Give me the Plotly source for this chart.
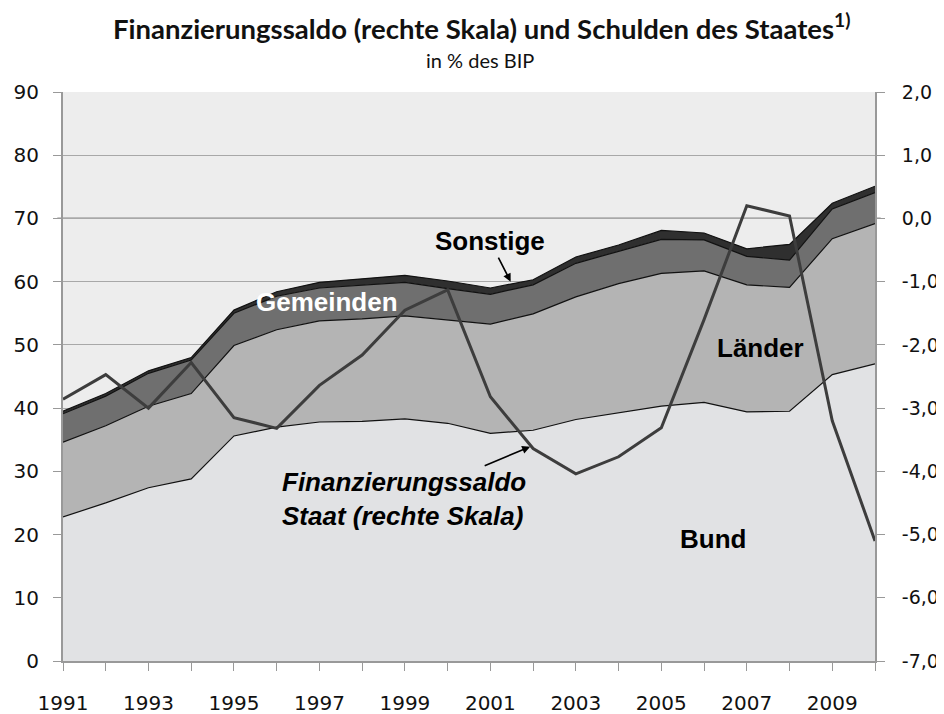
import plotly.graph_objects as go

years = list(range(1991, 2011))
bund = [22.8, 25.0, 27.4, 28.8, 35.6, 37.0, 37.8, 37.9, 38.3, 37.6, 36.0, 36.5, 38.2, 39.3, 40.3, 40.9, 39.4, 39.5, 45.3, 47.0]
laender = [11.8, 12.2, 12.9, 13.5, 14.3, 15.4, 16.0, 16.2, 16.3, 16.3, 17.3, 18.4, 19.4, 20.4, 21.0, 20.8, 20.1, 19.6, 21.5, 22.2]
gemeinden = [4.5, 4.7, 5.2, 5.3, 5.1, 5.3, 5.2, 5.3, 5.3, 5.0, 4.7, 4.6, 5.3, 5.1, 5.4, 4.9, 4.5, 4.3, 4.7, 4.9]
sonstige = [0.4, 0.4, 0.4, 0.4, 0.5, 0.7, 0.9, 1.1, 1.1, 1.2, 1.0, 0.8, 1.0, 1.0, 1.4, 1.1, 1.2, 2.5, 0.9, 1.0]
saldo = [-2.86, -2.47, -3.0, -2.28, -3.15, -3.32, -2.64, -2.16, -1.45, -1.13, -2.82, -3.64, -4.04, -3.77, -3.31, -1.6, 0.2, 0.04, -3.2, -5.1]

left_ticks = list(range(0, 100, 10))
right_ticks = list(range(-7, 3))
right_ticktext = [f"{v},0" for v in right_ticks]
x_labels = [y for y in years if y % 2 == 1]

fig = go.Figure()
areas = [("Bund", bund, "#e1e2e4"), ("Länder", laender, "#b4b4b4"),
         ("Gemeinden", gemeinden, "#6f6f6f"), ("Sonstige", sonstige, "#2f2f2f")]
for name, vals, col in areas:
    fig.add_trace(go.Scatter(x=years, y=vals, name=name, stackgroup="debt",
                             mode="lines", line=dict(color="#111111", width=1.2),
                             fillcolor=col))

fig.add_trace(go.Scatter(x=years, y=saldo, name="Finanzierungssaldo", yaxis="y2",
                         mode="lines", line=dict(color="#3d3d3d", width=3)))

tickfont = dict(family="DejaVu Sans", size=20, color="#111111")
fig.update_layout(
    width=936, height=706,
    margin=dict(l=55, r=69, t=84, b=53),
    paper_bgcolor="white", plot_bgcolor="#ededed",
    showlegend=False,
    xaxis=dict(range=[1991, 2010], tickmode="array", tickvals=x_labels,
               ticks="outside", ticklen=8, tickcolor="#999999", showgrid=False,
               minor=dict(tickmode="array", tickvals=years, ticks="outside", ticklen=8,
                          tickcolor="#999999", showgrid=False),
               showline=True, linecolor="#999999", linewidth=2, tickfont=tickfont,
               zeroline=False, ticklabelstandoff=15, automargin=False),
    yaxis=dict(range=[0, 90], tickmode="array", tickvals=left_ticks,
               ticks="outside", ticklen=8, tickcolor="#999999", showgrid=True,
               gridcolor="#a8a8a8", gridwidth=1, showline=True, linecolor="#999999",
               linewidth=2, tickfont=tickfont, zeroline=False, ticklabelstandoff=10,
               automargin=False),
    yaxis2=dict(range=[-7, 2], overlaying="y", side="right", tickmode="array",
                tickvals=right_ticks, ticktext=right_ticktext, ticks="outside",
                ticklen=8, tickcolor="#999999", showgrid=False, showline=True,
                linecolor="#999999", linewidth=2,
                tickfont=dict(family="DejaVu Sans", size=19, color="#111111"),
                zeroline=False, ticklabelstandoff=13, automargin=False),
)

fig.add_shape(type="line", xref="paper", yref="y", x0=-0.007, x1=1.007, y0=70, y1=70,
              line=dict(color="#2a2a2a", width=1.3), layer="below")

lab = dict(family="Liberation Sans", size=26, color="black")
fig.add_annotation(text="<b>Finanzierungssaldo (rechte Skala) und Schulden des Staates<sup>1)</sup></b>",
                   xref="paper", yref="paper", x=0.5166, y=1.0, yshift=66, showarrow=False,
                   font=dict(family="Lato", size=27.5, color="#111111"), xanchor="center", yanchor="middle")
fig.add_annotation(text="in % des BIP", xref="paper", yref="paper", x=0.514, y=1.0, yshift=32,
                   showarrow=False, font=dict(family="Lato", size=20, color="#111111"),
                   xanchor="center", yanchor="middle")

arrow = dict(showarrow=True, arrowhead=2, arrowsize=1, arrowwidth=1.6, arrowcolor="black",
             axref="x", ayref="y")
fig.add_annotation(text="<b>Sonstige</b>", x=2001.475, y=60.0, ax=2000.99, ay=66.4,
                   font=lab, **arrow)
fig.add_annotation(text="<b>Gemeinden</b>", x=1997.17, y=56.8, showarrow=False,
                   font=dict(family="Liberation Sans", size=26, color="white"))
fig.add_annotation(text="<b>Länder</b>", x=2007.31, y=49.5, showarrow=False, font=lab)
fig.add_annotation(text="<b>Bund</b>", x=2006.22, y=19.3, showarrow=False, font=lab)
fig.add_annotation(text="<b><i>Finanzierungssaldo<br>Staat (rechte Skala)</i></b>",
                   x=2001.93, y=33.9, ax=1998.99, ay=25.6, align="left", font=lab, **arrow)

fig.write_html("out.html")
